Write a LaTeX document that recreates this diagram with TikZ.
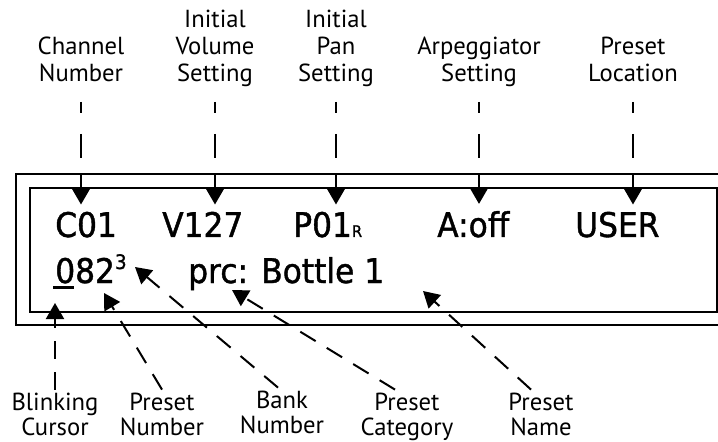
\documentclass[tikz,border=0pt]{standalone}
\usepackage{fontspec}
\setmainfont{PT Sans}
\newfontfamily\lcdfont[FakeStretch=0.92,FakeBold=1.2]{DejaVu Sans}
\usetikzlibrary{arrows.meta, calc}

\begin{document}
\begin{tikzpicture}[
    x=0.75pt, y=-0.75pt,
    every node/.style={font=\fontsize{18.5}{20.25}\selectfont},
    toplabel/.style={align=center, inner sep=0pt, anchor=base},
    botlabel/.style={align=center, inner sep=2pt, anchor=base, font=\fontsize{18.5}{18.75}\selectfont},
    lcd/.style={font=\lcdfont\fontsize{25.5}{30}\selectfont, inner sep=5.25pt, anchor=base west},
    frame/.style={line width=1.5pt},
    lead/.style={line width=1.5pt, -{Triangle[width=13.5pt,length=12pt]}},
    toplead/.style={lead, dash pattern=on 8.25pt off 15.75pt on 18pt off 12pt on 40pt off 10pt},
    botlead/.style={lead, dash pattern=on 13.5pt off 9.75pt},
  ]
  \useasboundingbox (0,0) rectangle (718,442);

  \draw[frame] (16,174) rectangle (740,325);
  \draw[frame] (30,188) rectangle (717,312);

  \node[toplabel] (chan) at (81,82) {Channel\\Number};
  \node[toplabel] (vol) at (215,82) {Initial\\Volume\\Setting};
  \node[toplabel] (pan) at (336,82) {Initial\\Pan\\Setting};
  \node[toplabel] (arp) at (479,82) {Arpeggiator\\Setting};
  \node[toplabel] (loc) at (633,82) {Preset\\Location};

  \node[lcd] (c01) at (48,237) {C01};
  \node[lcd] (v127) at (155,237) {V127};
  \node[lcd] (p01) at (286,237) {P01{\fontsize{12}{14}\selectfont R}};
  \node[lcd] (aoff) at (430,237) {A:off};
  \node[lcd] (user) at (568,237) {USER};
  \node[lcd] (num) at (48,283) {082\raisebox{10.5pt}{\fontsize{15}{17}\selectfont 3}};
  \node[lcd] (cat) at (181,283) {prc: Bottle 1};
  \draw[line width=2.25pt] (53,287) -- (74,287);

  \node[botlabel] (blink) at (55,435) {Blinking\\Cursor};
  \node[botlabel] (pnum) at (162,435) {Preset\\Number};
  \node[botlabel] (bank) at (282,433) {Bank\\Number};
  \node[botlabel] (pcat) at (407,435) {Preset\\Category};
  \node[botlabel] (pname) at (541,435) {Preset\\Name};

  \coordinate (curtip) at (55,303);
  \coordinate (numtip) at (104,293);
  \coordinate (banktip) at (135,267);
  \coordinate (cattip) at (232,290);
  \coordinate (nametip) at (423,291);

  \draw[toplead] ($(chan.base)+(0,20)$) -- (chan.base |- c01.north);
  \draw[toplead] ($(vol.base)+(0,20)$) -- (vol.base |- v127.north);
  \draw[toplead] ($(pan.base)+(0,20)$) -- (pan.base |- p01.north);
  \draw[toplead] ($(arp.base)+(0,20)$) -- (arp.base |- aoff.north);
  \draw[toplead] ($(loc.base)+(0,20)$) -- (loc.base |- user.north);

  \draw[botlead] (blink.north) -- (curtip);
  \draw[botlead] (pnum.north) -- (numtip);
  \draw[botlead] ($(bank.north)+(-4,0)$) -- (banktip);
  \draw[botlead] ($(pcat.north)+(-12,0)$) -- (cattip);
  \draw[botlead] ($(pname.north)+(-10,0)$) -- (nametip);
\end{tikzpicture}
\end{document}
